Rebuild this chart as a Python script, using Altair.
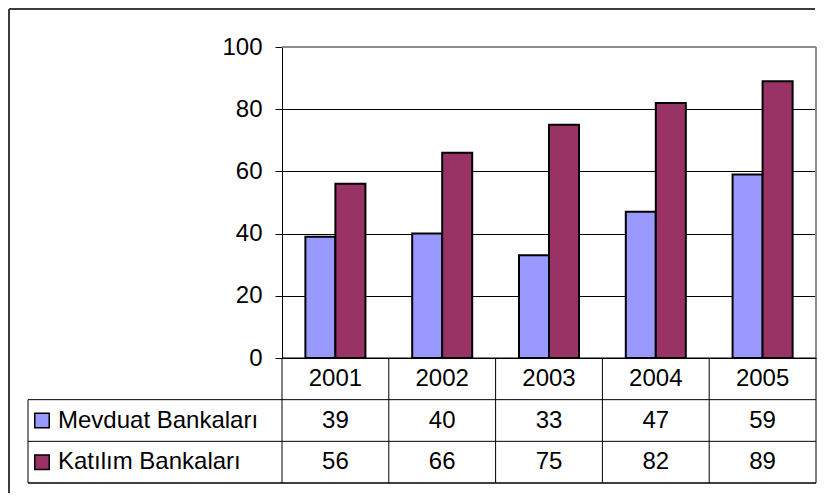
import altair as alt
import pandas as pd

# ---- data ----
years = ["2001", "2002", "2003", "2004", "2005"]
series = ["Mevduat Bankaları", "Katılım Bankaları"]
mevduat = [39, 40, 33, 47, 59]
katilim = [56, 66, 75, 82, 89]
colors = ["#9999FF", "#993366"]
y_ticks = [0, 20, 40, 60, 80, 100]
row_keys = ["Yıl"] + series

# ---- layout constants ----
W, H = 534, 436
PLOT_H = 311
FONT = "Liberation Sans"
FS = 24
LEG_LEFT = -254

bars_df = pd.DataFrame({
    "year": years * 2,
    "series": [series[0]] * len(years) + [series[1]] * len(years),
    "value": mevduat + katilim,
})

table_df = pd.DataFrame({
    "year": years * 3,
    "row": [row_keys[0]] * len(years) + [row_keys[1]] * len(years) + [row_keys[2]] * len(years),
    "label": years + [str(v) for v in mevduat] + [str(v) for v in katilim],
})
header_df = table_df[table_df["row"] == row_keys[0]]

legend_df = pd.DataFrame({"row": series, "color": colors})
one_df = pd.DataFrame({"k": [0]})

bar_x = alt.X("year:N", sort=years, axis=None,
              scale=alt.Scale(domain=years, paddingInner=0.438, paddingOuter=0.219))

bars = alt.Chart(bars_df).mark_bar(stroke="black", strokeWidth=2).encode(
    x=bar_x,
    xOffset=alt.XOffset("series:N", sort=series, scale=alt.Scale(domain=series)),
    y=alt.Y("value:Q",
            scale=alt.Scale(domain=[0, 100], range=[PLOT_H, 0], nice=False),
            axis=alt.Axis(values=y_ticks, grid=True, gridColor="black", gridWidth=1,
                          gridOpacity=1, domainColor="black", domainWidth=1,
                          tickColor="black", tickSize=7, tickWidth=1,
                          labelFont=FONT, labelFontSize=FS, labelColor="black",
                          labelPadding=13, title=None)),
    fill=alt.Fill("series:N", scale=alt.Scale(domain=series, range=colors), legend=None),
)

# plot-area border (grey top and right)
border_top = alt.Chart(one_df).mark_rule(color="#8c8c8c", strokeWidth=2).encode(
    x=alt.value(0), x2=alt.value(W), y=alt.value(0))
border_right = alt.Chart(one_df).mark_rule(color="#8c8c8c", strokeWidth=2).encode(
    x=alt.value(W), y=alt.value(0), y2=alt.value(PLOT_H))

# ---- data table ----
tx_scale = alt.Scale(domain=years, paddingInner=0, paddingOuter=0)
ty_scale = alt.Scale(domain=row_keys, range=[PLOT_H, H], paddingInner=0, paddingOuter=0)

cells = alt.Chart(table_df).mark_text(font=FONT, fontSize=FS, color="black", baseline="middle").encode(
    x=alt.X("year:N", sort=years, axis=None, scale=tx_scale),
    y=alt.Y("row:N", sort=row_keys, axis=None, scale=ty_scale),
    text="label:N",
)

col_lines = alt.Chart(header_df).mark_rule(color="black", strokeWidth=1).encode(
    x=alt.X("year:N", sort=years, axis=None, scale=tx_scale, bandPosition=0),
    y=alt.value(PLOT_H), y2=alt.value(H),
)
col_right = alt.Chart(one_df).mark_rule(color="black", strokeWidth=1).encode(
    x=alt.value(W), y=alt.value(PLOT_H), y2=alt.value(H))

row_lines = alt.Chart(legend_df).mark_rule(color="black", strokeWidth=1).encode(
    y=alt.Y("row:N", sort=row_keys, axis=None, scale=ty_scale, bandPosition=0),
    x=alt.value(LEG_LEFT), x2=alt.value(W),
)
row_bottom = alt.Chart(one_df).mark_rule(color="black", strokeWidth=1.5).encode(
    y=alt.value(H), x=alt.value(LEG_LEFT), x2=alt.value(W))
zero_line = alt.Chart(one_df).mark_rule(color="black", strokeWidth=1).encode(
    y=alt.value(PLOT_H), x=alt.value(0), x2=alt.value(W))

leg_left = alt.Chart(legend_df.iloc[:1]).mark_rule(color="black", strokeWidth=1).encode(
    x=alt.value(LEG_LEFT),
    y=alt.Y("row:N", sort=row_keys, axis=None, scale=ty_scale, bandPosition=0),
    y2=alt.value(H),
)

swatches = alt.Chart(legend_df).mark_square(size=210, opacity=1, stroke="black", strokeWidth=1.5).encode(
    x=alt.value(-240),
    y=alt.Y("row:N", sort=row_keys, axis=None, scale=ty_scale),
    fill=alt.Fill("color:N", scale=None),
)
leg_text = alt.Chart(legend_df).mark_text(font=FONT, fontSize=FS, color="black",
                                          align="left", baseline="middle").encode(
    x=alt.value(-224),
    y=alt.Y("row:N", sort=row_keys, axis=None, scale=ty_scale),
    text="row:N",
)

# outer chart frame (left and top edges visible)
frame_left = alt.Chart(one_df).mark_rule(color="#3c3c3c", strokeWidth=2).encode(
    x=alt.value(-273), y=alt.value(-38), y2=alt.value(446))
frame_top = alt.Chart(one_df).mark_rule(color="#3c3c3c", strokeWidth=2).encode(
    x=alt.value(-273), x2=alt.value(533), y=alt.value(-38))

chart = alt.layer(
    bars, border_top, border_right,
    cells, col_lines, col_right, row_lines, row_bottom, zero_line, leg_left,
    swatches, leg_text, frame_left, frame_top,
).resolve_scale(
    x="independent", y="independent", fill="independent"
).properties(
    width=W, height=H,
    padding={"left": 0, "top": 0, "right": 0, "bottom": 0},
    background="white",
).configure_view(stroke=None)

chart.save("out.html", embed_options={"renderer": "svg", "actions": False})
